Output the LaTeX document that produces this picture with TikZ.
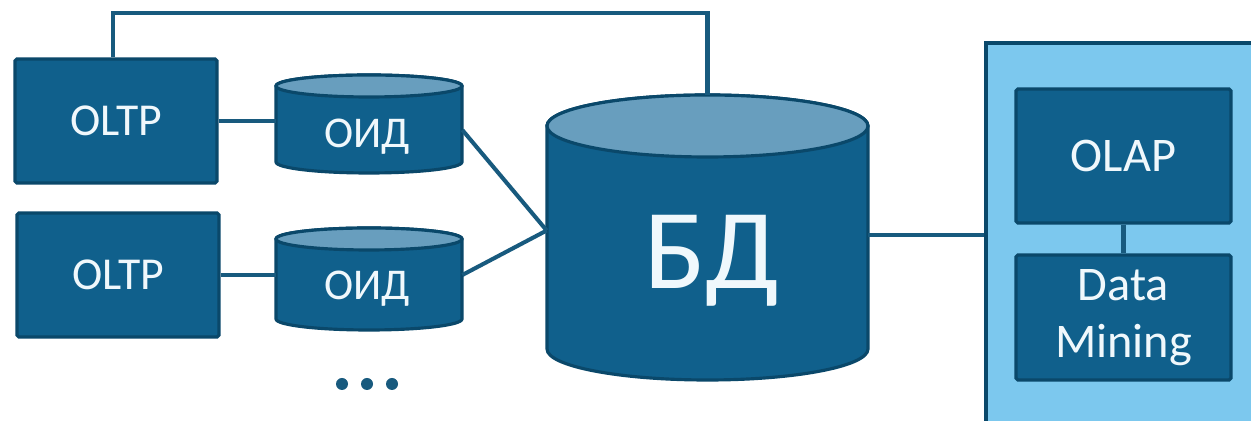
\documentclass[tikz,border=0pt]{standalone}
\usepackage{fontspec}
\setmainfont{Carlito}
\definecolor{darkfill}{RGB}{16,96,140}
\definecolor{darkline}{RGB}{10,72,106}
\definecolor{topfill}{RGB}{104,158,190}
\definecolor{lightfill}{RGB}{124,200,238}
\definecolor{conn}{RGB}{24,90,126}
\definecolor{txt}{RGB}{240,248,252}
\newcommand\mycyl[5]{%
  \draw[darkline,fill=darkfill,line width=1.8pt] (#1-#4,#2) -- (#1-#4,#3)
    arc[start angle=180,end angle=360,x radius=#4,y radius=#5] -- (#1+#4,#2)
    arc[start angle=0,end angle=180,x radius=#4,y radius=#5] -- cycle;
  \draw[darkline,fill=topfill,line width=1.8pt] (#1,#2) ellipse[x radius=#4,y radius=#5];}
\tikzset{
  box/.style={draw=darkline,fill=darkfill,line width=1.8pt,rounded corners=1pt,
    text=txt,align=center,inner sep=0pt},
  ghost/.style={inner sep=0pt},
  cyltext/.style={text=txt,inner sep=0pt},
  conline/.style={draw=conn,line width=2.3pt},
}
\begin{document}
\begin{tikzpicture}[x=0.02cm,y=0.02cm]
\useasboundingbox (0,0) rectangle (1251,421);
\fill[white] (0,0) rectangle (1251,421);
\begin{scope}
\clip (0,0) rectangle (1251,421);
% analysis container
\node[draw=darkline,fill=lightfill,line width=1.8pt,minimum width=5.68cm,minimum height=7.96cm,inner sep=0pt] (ana) at (1128,179) {};
\end{scope}
% boxes
\node[box,font=\fontsize{26}{32}\selectfont,minimum width=4.04cm,minimum height=2.48cm] (o1) at (116,300) {OLTP};
\node[box,font=\fontsize{26}{32}\selectfont,minimum width=4.04cm,minimum height=2.48cm] (o2) at (118,146) {OLTP};
\node[box,font=\fontsize{27.5}{32}\selectfont,minimum width=4.3cm,minimum height=2.68cm] (olap) at (1123.5,265) {OLAP};
\node[box,font=\fontsize{27.5}{32.5}\selectfont,minimum width=4.3cm,minimum height=2.5cm] (dm) at (1123.5,103.5) {Data\\Mining};
% cylinders
\mycyl{369}{335}{259}{93}{11}
\mycyl{369}{182}{102}{93}{11}
\mycyl{707.5}{295}{72}{160.5}{31}
\node[ghost,minimum width=3.72cm,minimum height=1.96cm] (oid1) at (369,297) {};
\node[ghost,minimum width=3.72cm,minimum height=2.04cm] (oid2) at (369,142) {};
\node[ghost,minimum width=6.42cm,minimum height=5.7cm] (bd) at (707.5,183.5) {};
\node[cyltext,font=\fontsize{25}{28}\selectfont] (t1) at (367,284) {ОИД};
\node[cyltext,font=\fontsize{25}{28}\selectfont] (t2) at (367,132) {ОИД};
\node[cyltext,font=\fontsize{65}{70}\selectfont] (t3) at (712,160) {БД};
% connectors
\coordinate (topc) at (400,408);
\draw[conline] ([xshift=-0.06cm]o1.north) |- (topc) -| (bd.north);
\draw[conline] (o1.east) -- (o1.east -| oid1.west);
\draw[conline] (o2.east) -- (o2.east -| oid2.west);
\draw[conline] ([yshift=-0.12cm]oid1.east) -- ([yshift=0.14cm]bd.west);
\draw[conline] ([yshift=0.08cm]oid2.east) -- ([yshift=0.14cm]bd.west);
\draw[conline] ([yshift=0.05cm]bd.east) -- ([yshift=0.05cm]bd.east -| ana.west);
\draw[conline] (olap.south) -- (dm.north);
% dots
\fill[conn] (342,37) circle[radius=6] (367,37) circle[radius=6] (392,37) circle[radius=6];
\end{tikzpicture}
\end{document}
